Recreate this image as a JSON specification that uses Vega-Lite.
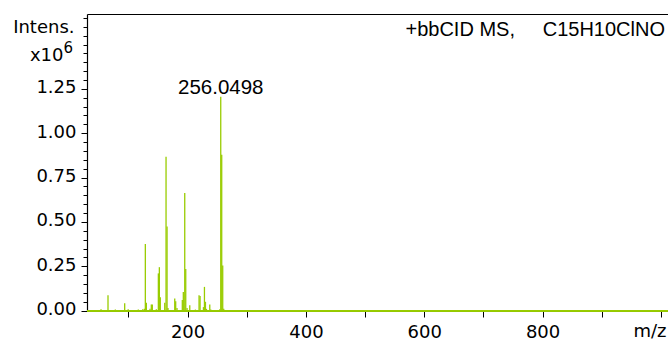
{
  "$schema": "https://vega.github.io/schema/vega-lite/v6.json",
  "width": 581,
  "height": 297,
  "autosize": {"type": "none"},
  "padding": {"left": 87, "top": 14, "right": 0, "bottom": 30},
  "background": "white",
  "config": {
    "view": {"stroke": null},
    "axis": {"grid": false, "zindex": 1, "domainColor": "#000000", "domainWidth": 1.2, "domainOpacity": 1, "tickColor": "#000000", "tickWidth": 1, "labelColor": "#000000", "titleColor": "#000000", "labelFont": "DejaVu Sans", "titleFont": "DejaVu Sans", "titleFontWeight": "normal"}
  },
  "title": {
    "text": "+bbCID MS,\u00a0\u00a0\u00a0\u00a0\u00a0C15H10ClNO",
    "font": "Liberation Sans",
    "fontSize": 20,
    "fontWeight": "normal",
    "color": "#000000",
    "anchor": "end",
    "frame": "group",
    "baseline": "alphabetic",
    "offset": -42,
    "dx": -3
  },
  "datasets": {
    "spectrum": [
      {"mz": 53.7, "intensity": 0.008},
      {"mz": 65.5, "intensity": 0.087},
      {"mz": 77.9, "intensity": 0.006},
      {"mz": 93.7, "intensity": 0.042},
      {"mz": 99.6, "intensity": 0.008},
      {"mz": 116.7, "intensity": 0.006},
      {"mz": 124.2, "intensity": 0.008},
      {"mz": 126.9, "intensity": 0.01},
      {"mz": 128.6, "intensity": 0.376},
      {"mz": 130.3, "intensity": 0.045},
      {"mz": 136.5, "intensity": 0.01},
      {"mz": 138.7, "intensity": 0.035},
      {"mz": 140.4, "intensity": 0.035},
      {"mz": 147.2, "intensity": 0.008},
      {"mz": 150.6, "intensity": 0.21},
      {"mz": 152.3, "intensity": 0.245},
      {"mz": 153.9, "intensity": 0.075},
      {"mz": 161.4, "intensity": 0.045},
      {"mz": 163.6, "intensity": 0.868},
      {"mz": 165.3, "intensity": 0.474},
      {"mz": 166.9, "intensity": 0.015},
      {"mz": 178.3, "intensity": 0.068},
      {"mz": 179.9, "intensity": 0.053},
      {"mz": 182.1, "intensity": 0.015},
      {"mz": 191.1, "intensity": 0.06},
      {"mz": 192.8, "intensity": 0.105},
      {"mz": 195.2, "intensity": 0.663},
      {"mz": 196.9, "intensity": 0.235},
      {"mz": 199.1, "intensity": 0.015},
      {"mz": 203.7, "intensity": 0.03},
      {"mz": 213.2, "intensity": 0.006},
      {"mz": 219.4, "intensity": 0.087},
      {"mz": 221.1, "intensity": 0.083},
      {"mz": 226.8, "intensity": 0.02},
      {"mz": 228.5, "intensity": 0.134},
      {"mz": 230.2, "intensity": 0.05},
      {"mz": 231.9, "intensity": 0.01},
      {"mz": 237.5, "intensity": 0.035},
      {"mz": 239.2, "intensity": 0.007},
      {"mz": 254.4, "intensity": 0.008},
      {"mz": 256.0498, "intensity": 1.206},
      {"mz": 257.7, "intensity": 0.878},
      {"mz": 259.4, "intensity": 0.254},
      {"mz": 261.1, "intensity": 0.01}
    ]
  },
  "data": {"name": "spectrum"},
  "resolve": {"axis": {"x": "independent", "y": "independent"}},
  "layer": [
    {
      "mark": {"type": "rule", "color": "#99CC00", "strokeWidth": 1.3},
      "encoding": {
        "x": {
          "field": "mz",
          "type": "quantitative",
          "scale": {"domain": [30, 1012], "nice": false, "zero": false},
          "axis": {
            "orient": "bottom",
            "domain": true,
            "values": [100, 200, 300, 400, 500, 600, 700, 800, 900, 1000],
            "labelExpr": "datum.value % 200 == 0 && datum.value < 1000 ? datum.label : ''",
            "format": "d",
            "tickSize": 6,
            "labelPadding": 6,
            "labelFontSize": 18,
            "labelFlush": false,
            "labelOverlap": false,
            "title": "m/z",
            "titleFontSize": 18,
            "titleAlign": "right",
            "titleBaseline": "alphabetic",
            "titleX": 579,
            "titleY": 25
          }
        },
        "y": {
          "field": "intensity",
          "type": "quantitative",
          "scale": {"domain": [-0.002, 1.672], "nice": false, "zero": false},
          "axis": {
            "orient": "left",
            "domain": true,
            "values": [0, 0.25, 0.5, 0.75, 1, 1.25],
            "format": ".2f",
            "tickSize": 6,
            "labelPadding": 5,
            "labelFontSize": 18,
            "labelOffset": -1,
            "title": "Intens.",
            "titleFontSize": 18,
            "titleAngle": 0,
            "titleAlign": "right",
            "titleBaseline": "alphabetic",
            "titleX": -13,
            "titleY": 18
          }
        },
        "y2": {"datum": 0}
      }
    },
    {
      "transform": [{"filter": "datum.intensity > 1"}],
      "mark": {"type": "text", "font": "Liberation Sans", "fontSize": 20.5, "baseline": "alphabetic", "align": "center", "dy": -3, "color": "#000000"},
      "encoding": {
        "x": {"field": "mz", "type": "quantitative", "axis": null},
        "y": {"field": "intensity", "type": "quantitative", "axis": null},
        "text": {"field": "mz", "type": "quantitative", "format": ".4f"}
      }
    },
    {
      "mark": {"type": "rule", "color": "#99CC00", "strokeWidth": 1.3},
      "encoding": {
        "x": {
          "datum": 30,
          "type": "quantitative",
          "axis": {
            "orient": "top",
            "ticks": false,
            "labels": false,
            "domain": true,
            "title": "6",
            "titleFontSize": 15,
            "titleAlign": "left",
            "titleBaseline": "alphabetic",
            "titleX": -24,
            "titleY": 38
          }
        },
        "x2": {"datum": 1012},
        "y": {
          "datum": 0,
          "type": "quantitative",
          "axis": {
            "orient": "left",
            "values": [0, 0.05, 0.1, 0.15, 0.2, 0.25, 0.3, 0.35, 0.4, 0.45, 0.5, 0.55, 0.6, 0.65, 0.7, 0.75, 0.8, 0.85, 0.9, 0.95, 1, 1.05, 1.1, 1.15, 1.2, 1.25, 1.3, 1.35, 1.4, 1.45, 1.5, 1.55, 1.6, 1.65],
            "labels": false,
            "domain": false,
            "tickSize": 4,
            "title": "x10",
            "titleFontSize": 18,
            "titleAngle": 0,
            "titleAlign": "right",
            "titleBaseline": "alphabetic",
            "titleX": -24,
            "titleY": 46
          }
        }
      }
    }
  ]
}
